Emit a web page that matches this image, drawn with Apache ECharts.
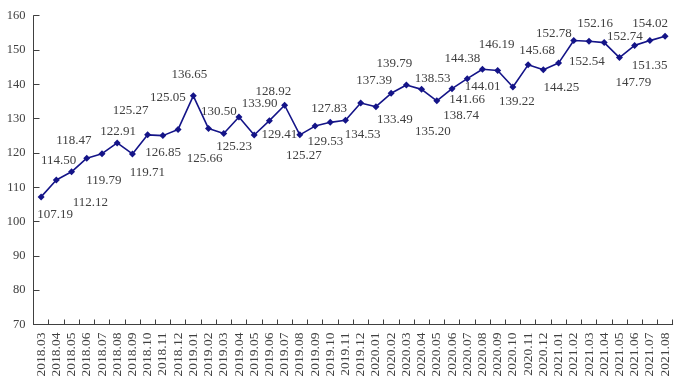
<!DOCTYPE html>
<html>
<head>
<meta charset="utf-8">
<script src="https://cdn.jsdelivr.net/npm/echarts@6/dist/echarts.min.js"></script>
<style>html,body{margin:0;padding:0;background:#fff;}#c{width:683px;height:387px;}</style>
</head>
<body>
<div id="c"></div>
<script>
const categories = ['2018.03','2018.04','2018.05','2018.06','2018.07','2018.08','2018.09','2018.10','2018.11','2018.12',
'2019.01','2019.02','2019.03','2019.04','2019.05','2019.06','2019.07','2019.08','2019.09','2019.10','2019.11','2019.12',
'2020.01','2020.02','2020.03','2020.04','2020.05','2020.06','2020.07','2020.08','2020.09','2020.10','2020.11','2020.12',
'2021.01','2021.02','2021.03','2021.04','2021.05','2021.06','2021.07','2021.08'];
const values = [107.19,112.12,114.50,118.47,119.79,122.91,119.71,125.27,125.05,126.85,
136.65,127.10,125.66,130.50,125.23,129.41,133.90,125.27,127.83,128.92,129.53,134.53,
133.49,137.39,139.79,138.53,135.20,138.74,141.66,144.38,144.01,139.22,145.68,144.25,
146.19,152.78,152.54,152.16,147.79,151.35,152.74,154.02];
// which points carry a visible value label
const labelShown = values.map((v, i) => i !== 11);
// label centre offsets (px) relative to each point
const labelOffsets = [[14,18],[34,23],[-13,-11],[-13,-18],[2,27],[1,-11],[15,19],[-17,-24],[5,-38],[-15,23],
[-4,-21],[0,0],[-19,25],[-20,-5],[-20,12],[10,14],[-25,-2],[4,21],[14,-18],[-57,-31],[-20,21],[2,31],
[19,13],[-17,-13],[-12,-21],[11,-11],[-4,31],[9,27],[0,21],[-20,-11],[-15,16],[4,15],[9,-14],[18,18],
[-62,-19],[-20,-7],[-2,20],[-9,-19],[14,25],[15,20],[-25,-4],[-15,-13]];
const yMin = 70, yMax = 160, yStep = 10;

const FONT = '"Liberation Serif", "DejaVu Serif", serif';
const SYM = 7;
const chart = echarts.init(document.getElementById('c'), null, {renderer: 'canvas'});
const seriesData = values.map((v, i) => ({
  value: v,
  label: {
    show: labelShown[i],
    position: [SYM / 2 + labelOffsets[i][0], SYM / 2 + labelOffsets[i][1]],
    align: 'center',
    verticalAlign: 'middle'
  }
}));
chart.setOption({
  animation: false,
  backgroundColor: '#ffffff',
  grid: {left: 33.5, right: 10.3, top: 15.7, bottom: 62.5, containLabel: false},
  xAxis: {
    type: 'category',
    data: categories,
    boundaryGap: true,
    axisLine: {lineStyle: {color: '#404040', width: 1}},
    axisTick: {show: true, inside: true, length: 5, alignWithLabel: false, lineStyle: {color: '#404040'}},
    axisLabel: {rotate: 90, interval: 0, margin: 8, color: '#404040', fontFamily: FONT, fontSize: 13.5}
  },
  yAxis: {
    type: 'value',
    min: yMin, max: yMax, interval: yStep,
    axisLine: {show: true, lineStyle: {color: '#404040', width: 1}},
    axisTick: {show: true, inside: true, length: 6, lineStyle: {color: '#404040'}},
    splitLine: {show: false},
    axisLabel: {margin: 8, color: '#404040', fontFamily: FONT, fontSize: 12.5}
  },
  series: [{
    type: 'line',
    data: seriesData,
    symbol: 'diamond',
    symbolSize: SYM,
    showAllSymbol: true,
    lineStyle: {color: '#141488', width: 1.6},
    itemStyle: {color: '#141488'},
    label: {
      show: true,
      color: '#404040',
      fontFamily: FONT,
      fontSize: 13,
      formatter: p => p.value.toFixed(2)
    },
    labelLayout: {hideOverlap: false}
  }]
});
</script>
</body>
</html>
